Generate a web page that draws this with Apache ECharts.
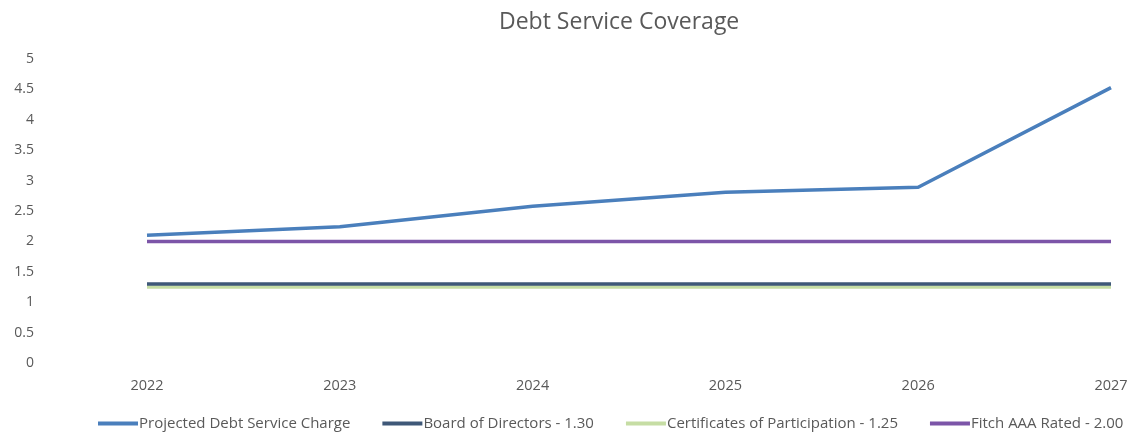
<!DOCTYPE html>
<html>
<head>
<meta charset="utf-8">
<script src="https://cdn.jsdelivr.net/npm/echarts@6/dist/echarts.min.js"></script>
<style>
  html, body { margin: 0; padding: 0; background: #fff; }
  #chart { width: 1135px; height: 444px; }
</style>
</head>
<body>
<div id="chart"></div>
<script>
var years = ['2022', '2023', '2024', '2025', '2026', '2027'];
var projected = [2.1, 2.24, 2.58, 2.81, 2.89, 4.53];
var board = [1.30, 1.30, 1.30, 1.30, 1.30, 1.30];
var certificates = [1.25, 1.25, 1.25, 1.25, 1.25, 1.25];
var fitch = [2.00, 2.00, 2.00, 2.00, 2.00, 2.00];

var chart = echarts.init(document.getElementById('chart'));
var font = 'Open Sans';

function line(name, data, color) {
    return {
        name: name,
        type: 'line',
        data: data,
        symbol: 'none',
        lineStyle: { color: color, width: 3.5 },
        itemStyle: { color: color }
    };
}

var option = {
    animation: false,
    title: {
        text: 'Debt Service Coverage',
        left: 494,
        top: 6,
        textStyle: { fontFamily: font, fontSize: 23, fontWeight: 'normal', color: '#595959' }
    },
    legend: {
        bottom: 8,
        left: 93,
        itemWidth: 40,
        itemHeight: 4,
        itemGap: 32,
        icon: 'rect',
        textStyle: { fontFamily: font, fontSize: 15, color: '#595959', padding: [0, 0, 0, -4] },
        data: ['Projected Debt Service Charge', 'Board of Directors - 1.30',
               'Certificates of Participation - 1.25', 'Fitch AAA Rated - 2.00']
    },
    grid: { left: 147, right: 24, top: 59, bottom: 81 },
    xAxis: {
        type: 'category',
        data: years,
        boundaryGap: false,
        axisLine: { show: false },
        axisTick: { show: false },
        axisLabel: { fontFamily: font, fontSize: 14.5, color: '#595959', margin: 15 }
    },
    yAxis: {
        type: 'value',
        min: 0,
        max: 5,
        interval: 0.5,
        splitLine: { show: false },
        axisLine: { show: false },
        axisTick: { show: false },
        axisLabel: { fontFamily: font, fontSize: 14, color: '#595959', margin: 113 }
    },
    series: [
        line('Certificates of Participation - 1.25', certificates, '#c6dda4'),
        line('Board of Directors - 1.30', board, '#3f5878'),
        line('Fitch AAA Rated - 2.00', fitch, '#7c55a8'),
        line('Projected Debt Service Charge', projected, '#4a7fbc')
    ]
};
chart.setOption(option);
</script>
</body>
</html>
